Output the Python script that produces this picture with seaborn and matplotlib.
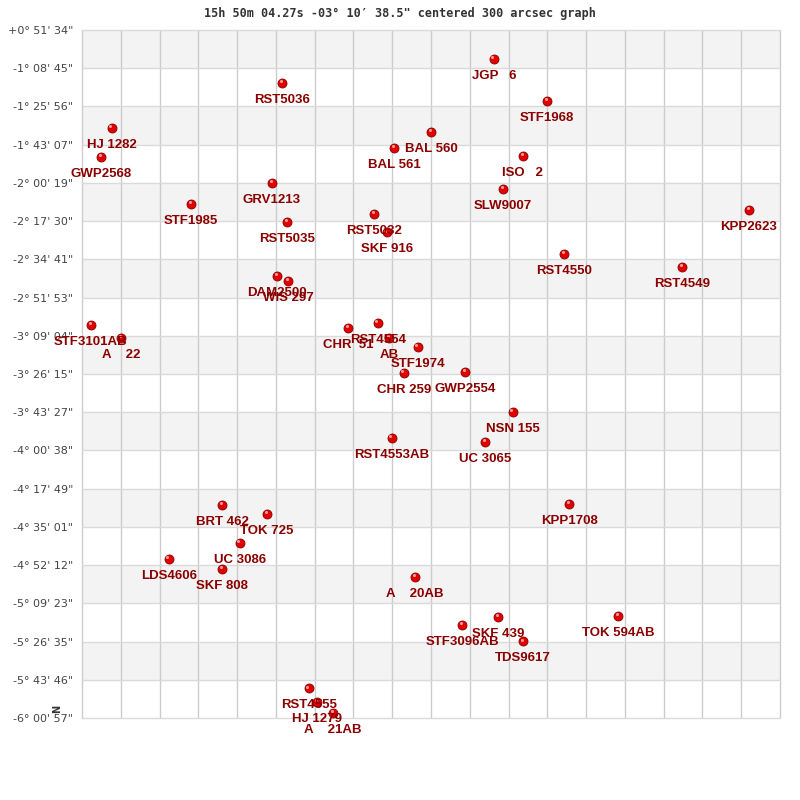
import matplotlib
matplotlib.use("Agg")
import matplotlib.pyplot as plt
import matplotlib.transforms as mtransforms
import seaborn as sns
import pandas as pd

# star positions, in grid cells (x: from left edge, y: rows down from top)
names = ["RST5036", "HJ 1282", "GWP2568", "GRV1213", "BAL 561", "BAL 560", "JGP   6",
         "STF1968", "ISO   2", "SLW9007", "STF1985", "RST5035", "RST5032", "SKF 916",
         "DAM2500", "WIS 297", "STF3101AB", "A    22", "CHR  51", "RST4554", "AB",
         "STF1974", "CHR 259", "GWP2554", "RST4553AB", "NSN 155", "UC 3065", "KPP1708",
         "A    20AB", "RST4550", "RST4549", "KPP2623", "BRT 462", "TOK 725", "UC 3086",
         "LDS4606", "SKF 808", "STF3096AB", "SKF 439", "TDS9617", "TOK 594AB",
         "RST4555", "HJ 1279", "A    21AB"]
ra_cells = [5.16, 0.77, 0.49, 4.90, 8.05, 9.00, 10.62,
            11.99, 11.37, 10.86, 2.81, 5.29, 7.53, 7.86,
            5.03, 5.31, 0.23, 1.01, 6.86, 7.63, 7.92,
            8.66, 8.30, 9.88, 7.99, 11.11, 10.39, 12.56,
            8.59, 12.43, 15.47, 17.20, 3.61, 4.77, 4.07,
            2.24, 3.61, 9.80, 10.73, 11.37, 13.82,
            5.85, 6.06, 6.47]
dec_cells = [1.39, 2.56, 3.32, 4.00, 3.09, 2.67, 0.76,
             1.86, 3.30, 4.16, 4.55, 5.02, 4.81, 5.29,
             6.44, 6.57, 7.72, 8.06, 7.80, 7.67, 8.06,
             8.29, 8.97, 8.95, 10.67, 9.99, 10.78, 12.40,
             14.31, 5.86, 6.20, 4.71, 12.43, 12.66, 13.42,
             13.84, 14.10, 15.57, 15.36, 15.99, 15.33,
             17.22, 17.58, 17.87]

dec_labels = ["+0° 51' 34\"", "-1° 08' 45\"", "-1° 25' 56\"", "-1° 43' 07\"",
              "-2° 00' 19\"", "-2° 17' 30\"", "-2° 34' 41\"", "-2° 51' 53\"",
              "-3° 09' 04\"", "-3° 26' 15\"", "-3° 43' 27\"", "-4° 00' 38\"",
              "-4° 17' 49\"", "-4° 35' 01\"", "-4° 52' 12\"", "-5° 09' 23\"",
              "-5° 26' 35\"", "-5° 43' 46\"", "-6° 00' 57\""]

title = "15h 50m 04.27s -03° 10′ 38.5\" centered 300 arcsec graph"

df = pd.DataFrame({"name": names, "x": ra_cells, "y": dec_cells})

sns.set_style("white")
fig = plt.figure(figsize=(8, 8), dpi=100)
ax = fig.add_axes([82 / 800, 1 - 718 / 800, 698 / 800, 688 / 800])

ncols = 18
nrows = len(dec_labels) - 1
ax.set_xlim(0, ncols)
ax.set_ylim(nrows, 0)

# striped rows
for r in range(0, nrows, 2):
    ax.axhspan(r, r + 1, color="#f3f3f3", zorder=0, lw=0)

for c in range(ncols + 1):
    ax.axvline(c, color="#cccccc", lw=1, zorder=1, clip_on=False)
for r in range(nrows + 1):
    ax.axhline(r, color="#dadada", lw=1, zorder=1, clip_on=False)

for s in ax.spines.values():
    s.set_visible(False)

ax.set_xticks([])
ax.set_yticks(range(nrows + 1))
ax.set_yticklabels(dec_labels, fontsize=8, color="#444444", family="DejaVu Sans")
ax.tick_params(axis="y", length=0, pad=6.5)

# markers: red balls with a small highlight
sns.scatterplot(data=df, x="x", y="y", ax=ax, s=42, color="#e00000",
                edgecolor="#8a0000", linewidth=0.6, zorder=3, legend=False)
hl = mtransforms.offset_copy(ax.transData, fig=fig, x=-1.0, y=1.2, units="points")
ax.scatter(df["x"], df["y"], s=5, color="#ff9a9a", transform=hl, zorder=4, lw=0)

for _, row in df.iterrows():
    ax.annotate(row["name"], (row["x"], row["y"]), xytext=(0, -14.4),
                textcoords="offset points", ha="center", va="baseline",
                fontsize=9.5, fontweight="bold", color="#8b0000",
                family="Liberation Sans", zorder=5, annotation_clip=False)

ax.set_xlabel("")
ax.set_ylabel("")

fig.text(0.5, 1 - 13 / 800, title, ha="center", va="center", fontsize=8.5,
         family="DejaVu Sans Mono", fontweight="bold", color="#333333")
fig.text(57 / 800, 1 - 709 / 800, "N", ha="center", va="center", fontsize=7,
         rotation=90, fontweight="bold", color="#333333")

plt.savefig("out.png", dpi=100)
plt.close()
